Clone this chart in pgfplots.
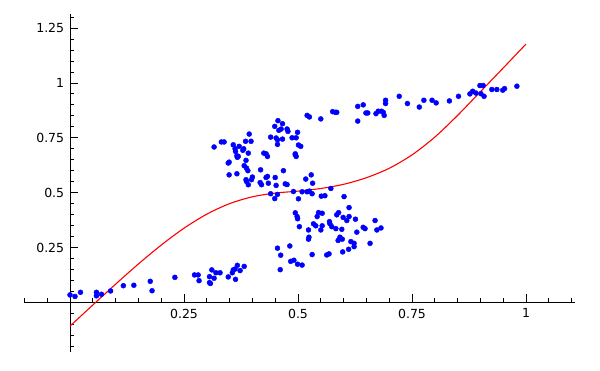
\documentclass[border=0pt]{standalone}
\usepackage{pgfplots}
\pgfplotsset{compat=1.18}
\usepackage{fontspec}
\setmainfont{DejaVu Sans}
\begin{document}
\fontsize{12.5pt}{15pt}\selectfont
\begin{tikzpicture}
\begin{axis}[
 scale only axis, width=550.4pt, height=338.2pt,
 xmin=-0.1, xmax=1.107, ymin=-0.227, ymax=1.314,
 axis lines=middle, axis line style={-, line width=0.8pt},
 xtick={0.25,0.5,0.75,1}, ytick={0.25,0.5,0.75,1,1.25},
 minor xtick={-0.1,-0.05,0.05,0.1,0.15,0.2,0.3,0.35,0.4,0.45,0.55,0.6,0.65,0.7,0.8,0.85,0.9,0.95,1.05,1.1},
 minor ytick={-0.2,-0.15,-0.1,-0.05,0.05,0.1,0.15,0.2,0.3,0.35,0.4,0.45,0.55,0.6,0.65,0.7,0.8,0.85,0.9,0.95,1.05,1.1,1.15,1.2,1.3},
 tick align=inside, major tick length=8pt, minor tick length=4pt,
 tick style={black, line width=0.8pt},
 /pgf/number format/assume math mode=true,
 ticklabel style={font=\fontsize{12.5pt}{15pt}\selectfont, color=black},
 xticklabel style={yshift=-2pt}, yticklabel style={xshift=-1.5pt},
 clip=false,
]
\addplot[red, line width=1.1pt, smooth] coordinates {
(0,-0.108) (0.05,-0.012) (0.1,0.083) (0.15,0.175) (0.2,0.261) (0.25,0.338)
(0.3,0.402) (0.35,0.450) (0.4,0.481) (0.45,0.498) (0.5,0.507) (0.55,0.519)
(0.6,0.538) (0.65,0.568) (0.7,0.611) (0.75,0.672) (0.8,0.753) (0.85,0.852)
(0.9,0.960) (0.95,1.068) (1.0,1.177)
};
\addplot[only marks, mark=*, mark size=2.5pt, color=blue, mark options={fill=blue, draw=blue}] coordinates {
(0.0,0.034) (0.011,0.027) (0.023,0.046) (0.058,0.046) (0.058,0.030) (0.069,0.037)
(0.089,0.052) (0.117,0.076) (0.140,0.078) (0.176,0.096) (0.180,0.053) (0.230,0.114)
(0.273,0.125) (0.281,0.125) (0.283,0.099) (0.306,0.117) (0.306,0.090) (0.308,0.086)
(0.311,0.148) (0.316,0.110) (0.320,0.135) (0.329,0.135) (0.347,0.116) (0.356,0.135)
(0.358,0.148) (0.363,0.105) (0.367,0.169) (0.373,0.145) (0.382,0.164) (0.362,0.152)
(0.455,0.247) (0.462,0.215) (0.461,0.149) (0.482,0.257) (0.484,0.187) (0.491,0.192)
(0.499,0.174) (0.509,0.170) (0.494,0.408) (0.498,0.391) (0.499,0.381) (0.503,0.345)
(0.523,0.330) (0.523,0.288) (0.524,0.297) (0.531,0.218) (0.534,0.358) (0.539,0.349)
(0.542,0.391) (0.545,0.409) (0.553,0.406) (0.550,0.330) (0.553,0.349) (0.563,0.216)
(0.568,0.221) (0.569,0.368) (0.570,0.358) (0.574,0.345) (0.583,0.336) (0.585,0.399)
(0.589,0.409) (0.588,0.282) (0.592,0.297) (0.596,0.333) (0.597,0.288) (0.598,0.230)
(0.599,0.387) (0.601,0.482) (0.607,0.373) (0.612,0.391) (0.612,0.432) (0.611,0.242)
(0.616,0.277) (0.623,0.269) (0.623,0.254) (0.626,0.379) (0.629,0.320) (0.643,0.342)
(0.647,0.336) (0.658,0.269) (0.669,0.373) (0.673,0.330) (0.682,0.339)
(0.440,0.495) (0.449,0.473) (0.455,0.492) (0.490,0.505) (0.501,0.472) (0.509,0.504)
(0.520,0.504) (0.525,0.507) (0.531,0.495) (0.551,0.484) (0.559,0.486) (0.572,0.519)
(0.316,0.708) (0.332,0.731) (0.338,0.731) (0.347,0.635) (0.349,0.639) (0.349,0.581)
(0.358,0.718) (0.362,0.700) (0.363,0.688) (0.366,0.668) (0.367,0.661) (0.371,0.711)
(0.369,0.665) (0.366,0.586) (0.379,0.693) (0.381,0.700) (0.385,0.734) (0.386,0.647)
(0.382,0.623) (0.387,0.612) (0.390,0.600) (0.391,0.680) (0.393,0.767) (0.397,0.734)
(0.386,0.559) (0.387,0.551) (0.391,0.536) (0.398,0.559) (0.400,0.571) (0.418,0.604)
(0.417,0.546) (0.420,0.536) (0.425,0.680) (0.430,0.677) (0.433,0.665) (0.430,0.569)
(0.433,0.574) (0.435,0.543) (0.440,0.753) (0.449,0.802) (0.452,0.749) (0.456,0.828)
(0.455,0.741) (0.455,0.720) (0.458,0.784) (0.463,0.790) (0.466,0.814) (0.466,0.744)
(0.450,0.569) (0.452,0.533) (0.468,0.600) (0.472,0.540) (0.476,0.537) (0.476,0.790)
(0.478,0.779) (0.487,0.750) (0.496,0.750) (0.499,0.775) (0.494,0.673) (0.496,0.665)
(0.494,0.677) (0.501,0.717) (0.506,0.711) (0.517,0.562) (0.529,0.581) (0.532,0.543)
(0.520,0.852) (0.525,0.845) (0.550,0.836) (0.576,0.869) (0.582,0.866) (0.585,0.866)
(0.631,0.893) (0.631,0.826) (0.643,0.900) (0.649,0.863) (0.653,0.863) (0.671,0.860)
(0.676,0.871) (0.683,0.871) (0.687,0.866) (0.689,0.852) (0.692,0.921) (0.692,0.906)
(0.722,0.939) (0.740,0.906) (0.766,0.890) (0.776,0.921) (0.794,0.921) (0.803,0.909)
(0.832,0.918) (0.852,0.939) (0.877,0.950) (0.883,0.962) (0.890,0.954) (0.899,0.988)
(0.906,0.988) (0.901,0.951) (0.908,0.939) (0.925,0.970) (0.936,0.970) (0.949,0.967)
(0.953,0.974) (0.980,0.985)
};
\end{axis}
\path (current axis.south west) ++(-24.4pt,-18pt) coordinate (bbA);
\path (current axis.north east) ++(25.2pt,14pt) coordinate (bbB);
\path (bbA) rectangle (bbB);
\end{tikzpicture}
\end{document}
